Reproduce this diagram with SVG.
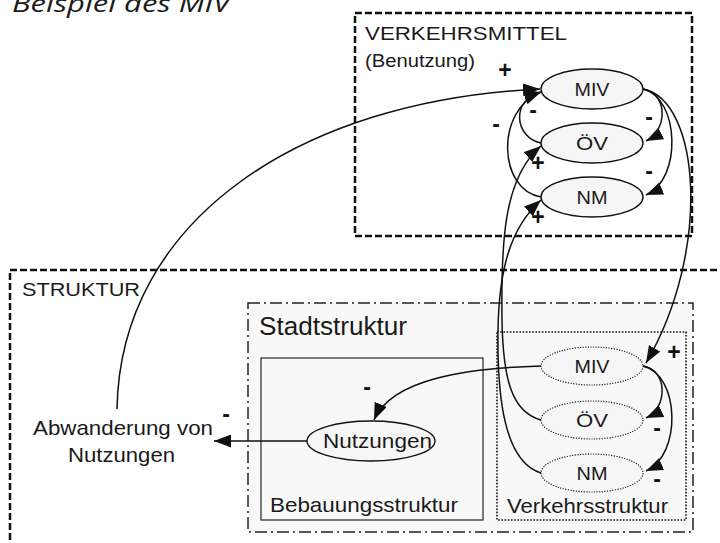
<svg xmlns="http://www.w3.org/2000/svg" width="720" height="543" viewBox="0 0 720 543">
  <style>
    .t { font-family: "Liberation Sans", Arial, sans-serif; fill: #1a1a1a; }
    .sign { font-family: "Liberation Sans", Arial, sans-serif; font-weight: bold; font-size: 23px; fill: #111; text-anchor: middle; }
    .box-dash { fill: none; stroke: #111; stroke-width: 2.5; stroke-dasharray: 7 3; }
    .box-dashdot { fill: #f8f8f8; stroke: #222; stroke-width: 1.5; stroke-dasharray: 12 4 2 4; }
    .box-solid { fill: #f8f8f8; stroke: #333; stroke-width: 1.3; }
    .box-dot { fill: #f8f8f8; stroke: #111; stroke-width: 1.6; stroke-dasharray: 1.6 1.6; }
    .node { fill: #f6f6f6; stroke: #111; stroke-width: 1.4; }
    .node-dot { fill: #f6f6f6; stroke: #222; stroke-width: 1.2; stroke-dasharray: 1.2 1.4; }
    .lbl { font-family: "Liberation Sans", Arial, sans-serif; font-size: 19px; fill: #1a1a1a; text-anchor: middle; }
    .edge { fill: none; stroke: #111; stroke-width: 1.5; marker-end: url(#arrow); }
  </style>
  <defs>
    <marker id="arrow" markerUnits="userSpaceOnUse" markerWidth="18" markerHeight="13" refX="17" refY="6.5" orient="auto">
      <path d="M0,0 L17,6.5 L0,13 Z" fill="#111"/>
    </marker>
  </defs>

  <rect width="720" height="543" fill="#ffffff"/>

  <!-- heading, partly above the top edge -->
  <text x="12" y="12" font-family="Open Sans, sans-serif" font-style="italic" font-size="23" fill="#1a1a1a" textLength="218" lengthAdjust="spacingAndGlyphs">Beispiel des MIV</text>

  <!-- containers -->
  <g id="verkehrsmittel">
    <rect class="box-dash" x="355" y="13" width="337" height="223"/>
    <text class="t" x="365" y="40" font-size="19" textLength="202" lengthAdjust="spacingAndGlyphs">VERKEHRSMITTEL</text>
    <text class="t" x="365" y="67" font-size="18" textLength="110" lengthAdjust="spacingAndGlyphs">(Benutzung)</text>
  </g>
  <g id="struktur">
    <rect class="box-dash" x="10" y="270" width="730" height="300"/>
    <text class="t" x="22" y="296" font-size="19" textLength="118" lengthAdjust="spacingAndGlyphs">STRUKTUR</text>
  </g>
  <g id="stadtstruktur">
    <rect class="box-dashdot" x="248" y="303" width="445" height="229"/>
    <text class="t" x="259" y="335" font-size="25" textLength="148" lengthAdjust="spacingAndGlyphs">Stadtstruktur</text>
  </g>
  <g id="bebauungsstruktur">
    <rect class="box-solid" x="261" y="358" width="222" height="162"/>
    <text class="t" x="270" y="512" font-size="21" textLength="188" lengthAdjust="spacingAndGlyphs">Bebauungsstruktur</text>
  </g>
  <g id="verkehrsstruktur">
    <rect class="box-dot" x="497" y="332" width="189" height="188"/>
    <text class="t" x="507" y="513" font-size="21" textLength="161" lengthAdjust="spacingAndGlyphs">Verkehrsstruktur</text>
  </g>

  <!-- usage nodes -->
  <g id="miv-benutzung">
    <ellipse class="node" cx="592" cy="89" rx="51" ry="20"/>
    <text class="lbl" x="592" y="96" textLength="35" lengthAdjust="spacingAndGlyphs">MIV</text>
  </g>
  <g id="oev-benutzung">
    <ellipse class="node" cx="592" cy="143" rx="51" ry="20"/>
    <text class="lbl" x="592" y="150" textLength="32" lengthAdjust="spacingAndGlyphs">ÖV</text>
  </g>
  <g id="nm-benutzung">
    <ellipse class="node" cx="592" cy="197" rx="51" ry="20"/>
    <text class="lbl" x="592" y="204" textLength="31" lengthAdjust="spacingAndGlyphs">NM</text>
  </g>

  <!-- structure nodes -->
  <g id="miv-struktur">
    <ellipse class="node-dot" cx="592" cy="366" rx="51" ry="19"/>
    <text class="lbl" x="592" y="373" textLength="35" lengthAdjust="spacingAndGlyphs">MIV</text>
  </g>
  <g id="oev-struktur">
    <ellipse class="node-dot" cx="592" cy="420" rx="51" ry="19"/>
    <text class="lbl" x="592" y="427" textLength="32" lengthAdjust="spacingAndGlyphs">ÖV</text>
  </g>
  <g id="nm-struktur">
    <ellipse class="node-dot" cx="592" cy="473" rx="51" ry="19"/>
    <text class="lbl" x="592" y="480" textLength="31" lengthAdjust="spacingAndGlyphs">NM</text>
  </g>
  <g id="nutzungen">
    <ellipse class="node" cx="371" cy="441" rx="64" ry="20"/>
    <text class="t" x="323" y="448" font-size="21" textLength="109" lengthAdjust="spacingAndGlyphs">Nutzungen</text>
  </g>
  <g id="abwanderung">
    <text class="t" x="33" y="435" font-size="21" textLength="180" lengthAdjust="spacingAndGlyphs">Abwanderung von</text>
    <text class="t" x="68" y="462" font-size="21" textLength="107" lengthAdjust="spacingAndGlyphs">Nutzungen</text>
  </g>

  <!-- connectors -->
  <g id="connectors">
    <!-- Abwanderung -> MIV usage -->
    <path class="edge" d="M117,409 C120,220 300,100 540,89"/>
    <!-- within usage -->
    <path class="edge" d="M643,89 C668,93 668,130 646,141"/>
    <path class="edge" d="M643,89 C680,98 682,180 646,195"/>
    <path class="edge" d="M541,143 C515,138 510,100 541,92"/>
    <path class="edge" d="M541,197 C498,190 495,110 541,92"/>
    <!-- MIV usage -> MIV structure -->
    <path class="edge" d="M643,89 C700,100 712,250 646,363"/>
    <!-- structure -> usage -->
    <path class="edge" d="M541,420 C512,412 503,380 502,320 C501,245 503,178 541,146"/>
    <path class="edge" d="M541,473 C505,462 497,400 498,330 C499,270 510,228 541,200"/>
    <!-- within structure -->
    <path class="edge" d="M643,366 C668,370 668,408 646,418"/>
    <path class="edge" d="M643,366 C680,375 682,455 646,471"/>
    <!-- MIV structure -> Nutzungen -->
    <path class="edge" d="M541,366 C470,368 392,378 374,420"/>
    <!-- Nutzungen -> Abwanderung -->
    <path class="edge" d="M307,441 L214,441"/>
  </g>

  <!-- polarity signs -->
  <g id="signs">
    <text class="sign" x="505" y="78">+</text>
    <text class="sign" x="533" y="118">-</text>
    <text class="sign" x="496" y="132">-</text>
    <text class="sign" x="538" y="171">+</text>
    <text class="sign" x="538" y="225">+</text>
    <text class="sign" x="649" y="125">-</text>
    <text class="sign" x="649" y="179">-</text>
    <text class="sign" x="674" y="360">+</text>
    <text class="sign" x="657" y="436">-</text>
    <text class="sign" x="657" y="487">-</text>
    <text class="sign" x="367" y="395">-</text>
    <text class="sign" x="226" y="422">-</text>
  </g>
</svg>
